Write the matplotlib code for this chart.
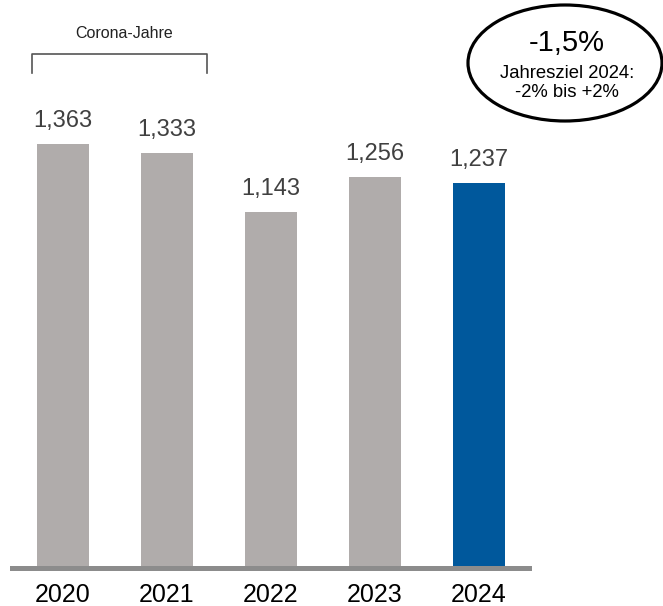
import matplotlib
matplotlib.use("Agg")
import matplotlib.pyplot as plt
from matplotlib.patches import Ellipse
from matplotlib.lines import Line2D

plt.rcParams['font.family'] = ['Liberation Sans', 'DejaVu Sans']

years = ["2020", "2021", "2022", "2023", "2024"]
values = [1363, 1333, 1143, 1256, 1237]
value_labels = ["1,363", "1,333", "1,143", "1,256", "1,237"]
bar_colors = ["#B0ACAB", "#B0ACAB", "#B0ACAB", "#B0ACAB", "#00589C"]
bracket_text = "Corona-Jahre"
bubble_main = "-1,5%"
bubble_sub = "Jahresziel 2024:\n-2% bis +2%"

W, H = 663, 606
fig = plt.figure(figsize=(W / 100, H / 100), dpi=100)
base_px = 567.5
ax = fig.add_axes([12 / W, (H - base_px) / H, 517 / W, base_px / H])
x = list(range(len(years)))
ax.bar(x, values, width=0.5, color=bar_colors, zorder=2)
ax.set_xlim(-0.49, 4.48)
ax.set_ylim(0, 1825)
for s in ax.spines.values():
    s.set_visible(False)
ax.set_xticks([])
ax.set_yticks([])
ax.axhline(0, color="#8C8C8C", lw=3.6, zorder=3, clip_on=False)

for i, (v, lab) in enumerate(zip(values, value_labels)):
    ax.annotate(lab, xy=(i, v), xytext=(0, 12), textcoords="offset points",
                ha="center", va="baseline", fontsize=17, color="#404040")
    ax.annotate(years[i], xy=(i, 0), xytext=(0, -25), textcoords="offset points",
                ha="center", va="baseline", fontsize=18, color="#000000",
                annotation_clip=False)

# bracket
bx0, bx1, by0, by1 = 32, 207, 54, 73
fig.add_artist(Line2D([bx0 / W, bx0 / W, bx1 / W, bx1 / W],
                      [1 - by1 / H, 1 - by0 / H, 1 - by0 / H, 1 - by1 / H],
                      color="#555555", lw=1.2, transform=fig.transFigure))
fig.text(124 / W, 1 - 33 / H, bracket_text, ha="center", va="center",
         fontsize=11.5, color="#222222")

# ellipse bubble
fig.add_artist(Ellipse((565 / W, 1 - 63 / H), 194 / W, 116 / H,
                       transform=fig.transFigure, facecolor="white",
                       edgecolor="black", lw=2.3))
fig.text(567 / W, 1 - 43 / H, bubble_main, ha="center", va="center",
         fontsize=21, color="#000000")
fig.text(567 / W, 1 - 83 / H, bubble_sub, ha="center", va="center",
         fontsize=13.3, color="#000000", linespacing=1.2)

fig.savefig("out.png", dpi=100)
